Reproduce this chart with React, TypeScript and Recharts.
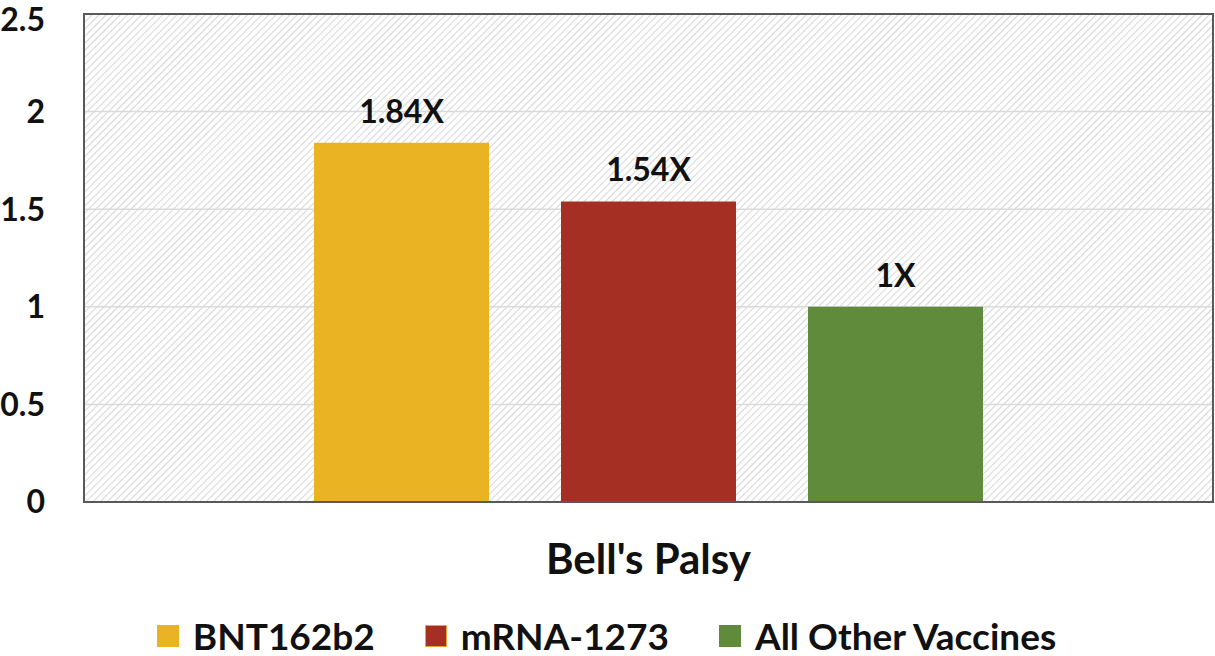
import React from 'react';
import { BarChart, Bar, XAxis, YAxis, CartesianGrid, Legend, LabelList, ReferenceArea } from 'recharts';

const categories = ["Bell's Palsy"];
const seriesNames = ['BNT162b2', 'mRNA-1273', 'All Other Vaccines'];
const seriesKeys = ['bnt', 'mrna', 'other'];
const seriesColors = ['#EAB323', '#A52F23', '#5F8B3B'];
const bntValues = [1.84];
const mrnaValues = [1.54];
const otherValues = [1];
const yTicks = [0, 0.5, 1, 1.5, 2, 2.5];

const data = categories.map((c, i) => ({
  name: c,
  bnt: bntValues[i],
  mrna: mrnaValues[i],
  other: otherValues[i],
}));

const FONT = 'Lato, "Open Sans", sans-serif';

const renderLegend = () => (
  <div style={{ display: 'flex', justifyContent: 'center', alignItems: 'center', fontFamily: FONT, fontWeight: 700, fontSize: 37, color: '#111', lineHeight: '40px' }}>
    {seriesNames.map((n, i) => (
      <div key={n} style={{ display: 'flex', alignItems: 'center', marginRight: i < 2 ? 50 : 0 }}>
        <span style={{ display: 'inline-block', width: 22, height: 22, background: seriesColors[i], marginRight: 14, boxSizing: 'border-box', border: i === 1 ? '1px solid #E8A33A' : 'none' }} />
        <span>{n}</span>
      </div>
    ))}
  </div>
);

const fmt = (v: any) => `${v}X`;

export default function App() {
  return (
    <div style={{ position: 'absolute', left: 0, top: 0, background: '#fff' }}>
      <svg width={0} height={0} style={{ position: 'absolute' }}>
        <defs>
          <pattern id="hatch" patternUnits="userSpaceOnUse" width={5} height={5} patternTransform="rotate(45)">
            <rect width={5} height={5} fill="#ffffff" />
            <line x1={0} y1={0} x2={0} y2={5} stroke="#d8d8d8" strokeWidth={2.2} />
          </pattern>
        </defs>
      </svg>
      <BarChart
        width={1215}
        height={656}
        data={data}
        margin={{ top: 14, right: 2, left: 0, bottom: 0 }}
        barSize={175}
        barGap={72}
      >
        <CartesianGrid vertical={false} stroke="#dadada" strokeWidth={1.5} fill="url(#hatch)" />
        <XAxis
          dataKey="name"
          axisLine={{ stroke: '#595959', strokeWidth: 2 }}
          tickLine={false}
          tickMargin={36}
          height={114}
          tick={{ fontSize: 42, fontWeight: 700, fill: '#111', fontFamily: FONT }}
        />
        <YAxis
          domain={[0, 2.5]}
          ticks={yTicks}
          width={84}
          axisLine={{ stroke: '#595959', strokeWidth: 2 }}
          tickLine={false}
          tickMargin={33}
          tick={{ fontSize: 32, fontWeight: 700, fill: '#111', fontFamily: FONT }}
        />
        <ReferenceArea y1={0} y2={2.5} fill="none" stroke="#595959" strokeWidth={2} ifOverflow="visible" />
        <Legend verticalAlign="bottom" height={40} content={renderLegend} />
        {seriesKeys.map((k, i) => (
          <Bar key={k} dataKey={k} name={seriesNames[i]} fill={seriesColors[i]} isAnimationActive={false}>
            <LabelList dataKey={k} position="top" offset={20} formatter={fmt} style={{ fontSize: 32, fontWeight: 700, fill: '#111', fontFamily: FONT }} />
          </Bar>
        ))}
      </BarChart>
    </div>
  );
}
